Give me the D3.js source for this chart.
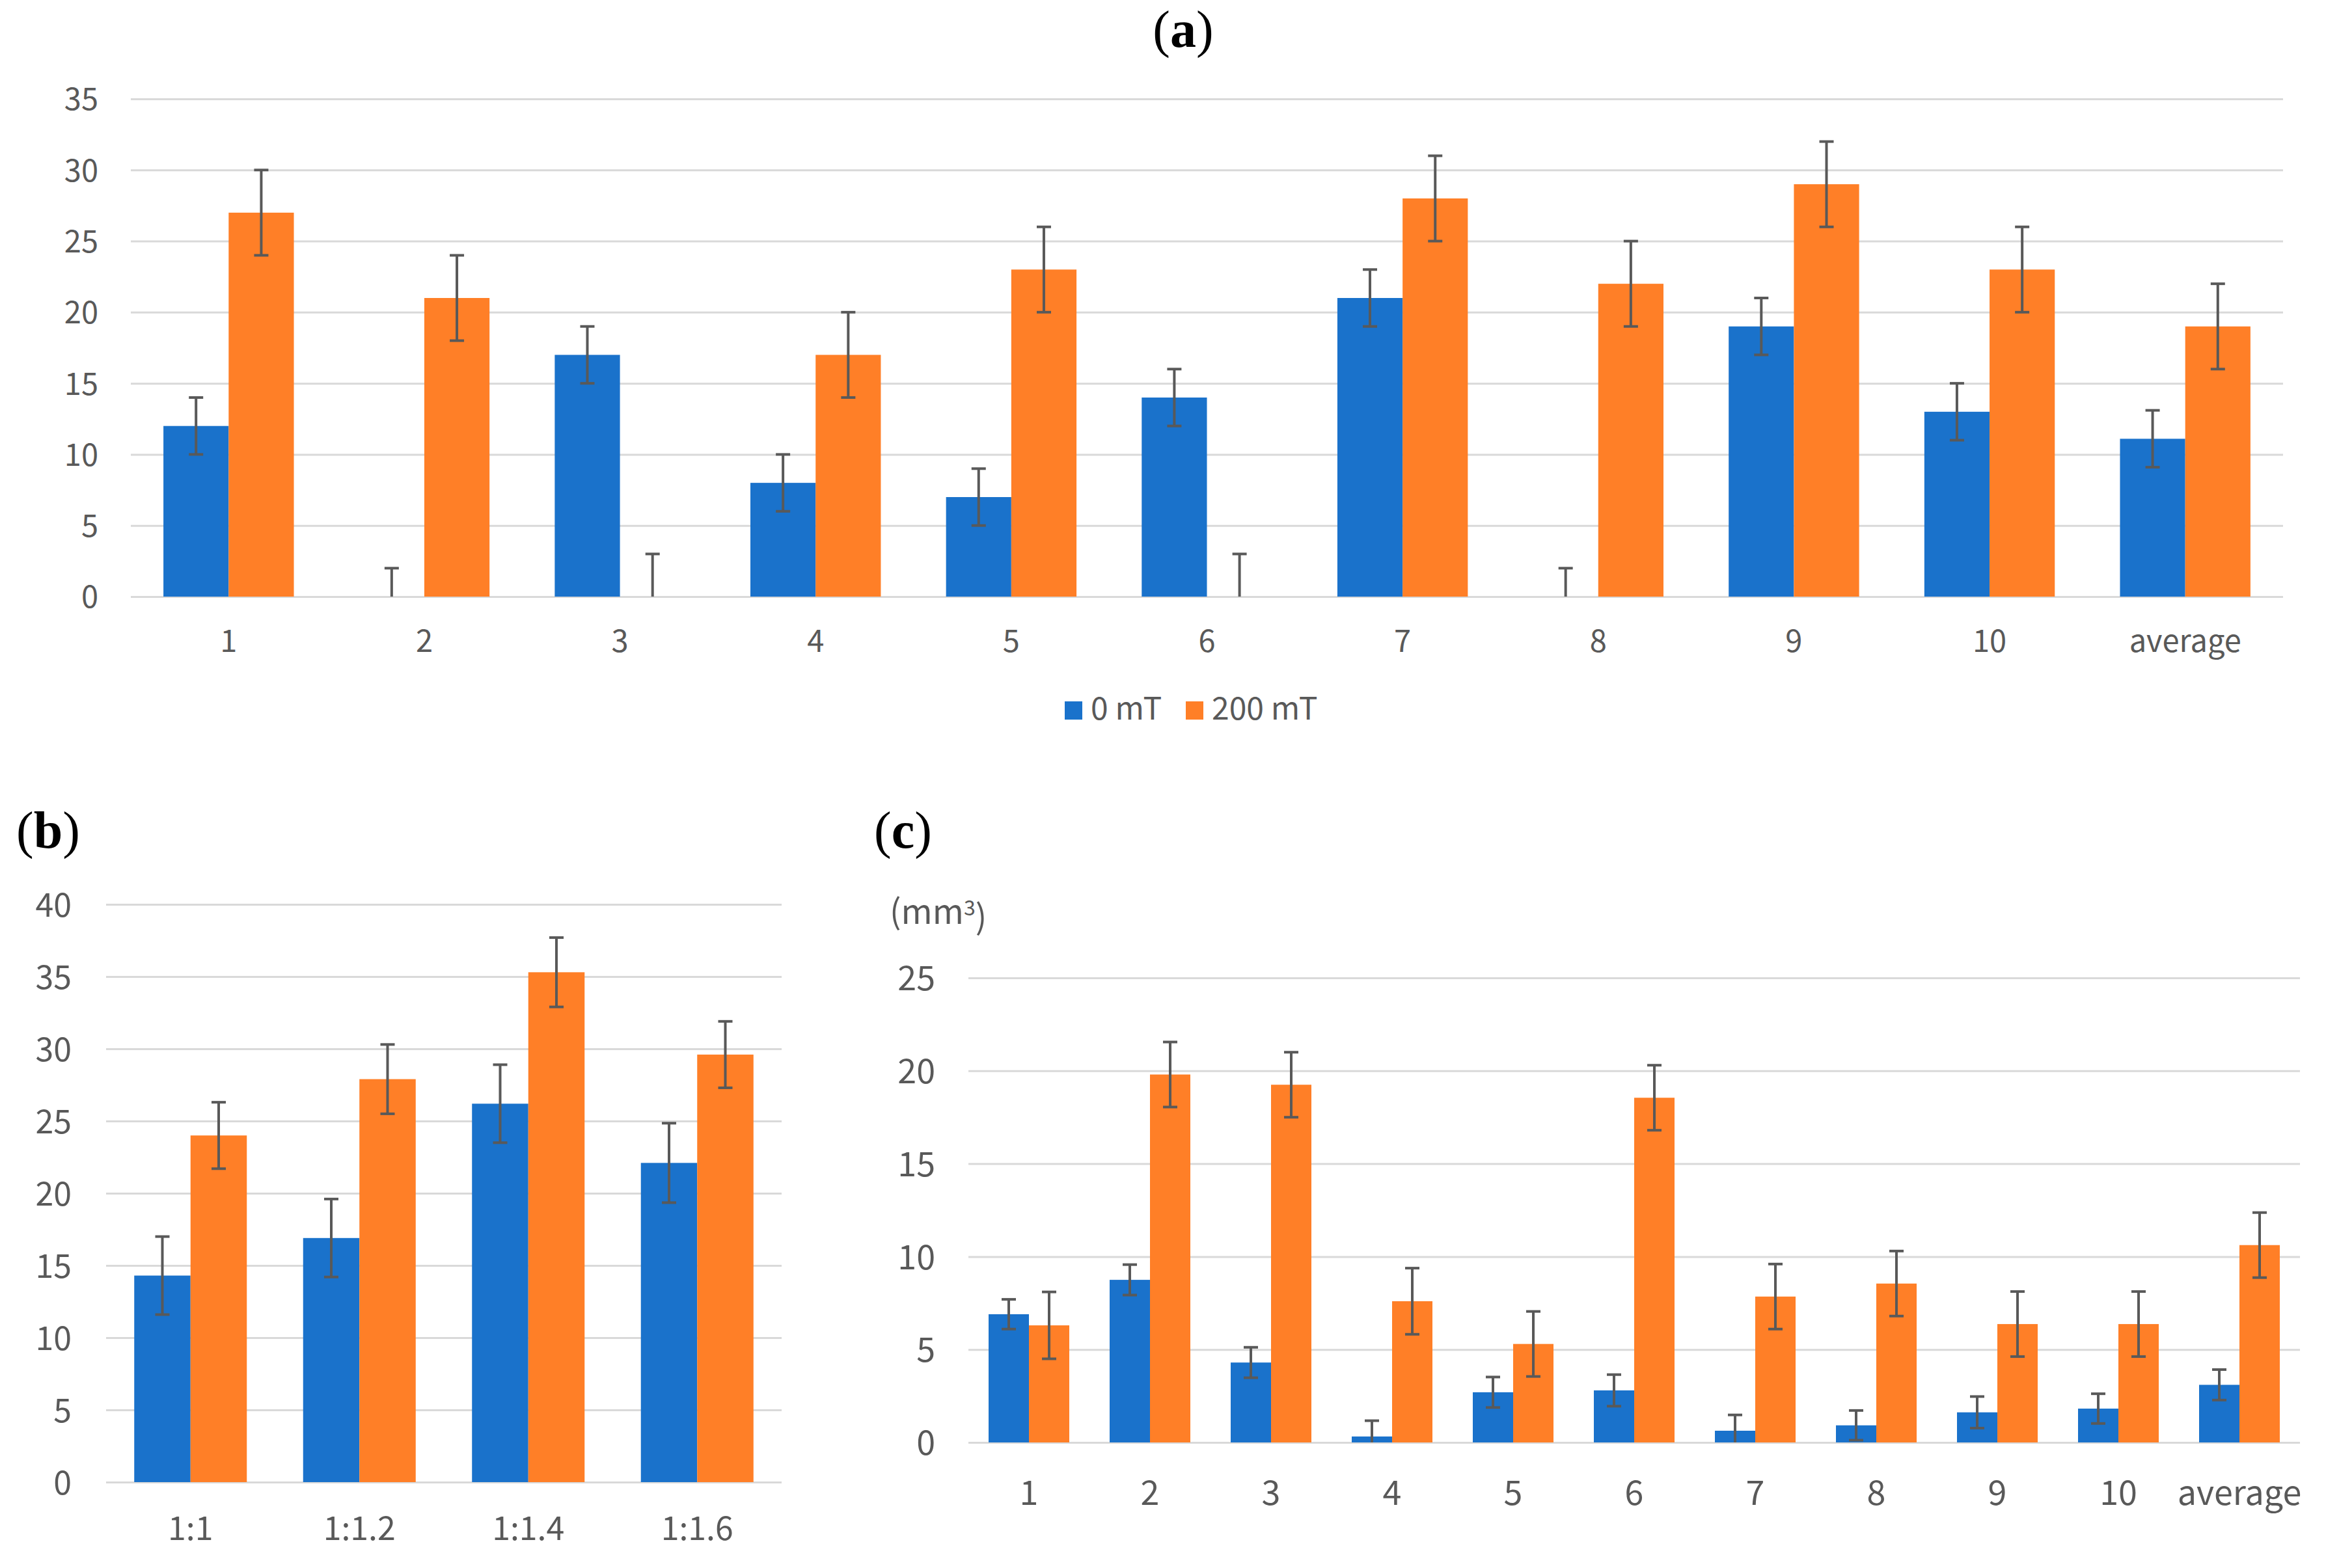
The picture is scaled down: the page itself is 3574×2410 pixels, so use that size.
<!DOCTYPE html>
<html>
<head>
<meta charset="utf-8">
<script src="https://cdnjs.cloudflare.com/ajax/libs/d3/7.8.5/d3.min.js"></script>
<style>
  html, body { margin: 0; padding: 0; background: #ffffff; }
  svg { display: block; }
</style>
</head>
<body>
<div id="chart"></div>
<script>
'use strict';

// ---- data ----
var seriesNames = ["0 mT", "200 mT"];

var catsA = ["1", "2", "3", "4", "5", "6", "7", "8", "9", "10", "average"];
var blueA = [12, 0, 17, 8, 7, 14, 21, 0, 19, 13, 11.1];
var orangeA = [27, 21, 0, 17, 23, 0, 28, 22, 29, 23, 19];
var blueErrA = [2, 2, 2, 2, 2, 2, 2, 2, 2, 2, 2];
var orangeErrA = [3, 3, 3, 3, 3, 3, 3, 3, 3, 3, 3];
var ticksA = [0, 5, 10, 15, 20, 25, 30, 35];

var catsB = ["1:1", "1:1.2", "1:1.4", "1:1.6"];
var blueB = [14.3, 16.9, 26.2, 22.1];
var orangeB = [24.0, 27.9, 35.3, 29.6];
var blueErrB = [2.7, 2.7, 2.7, 2.75];
var orangeErrB = [2.3, 2.4, 2.4, 2.3];
var ticksB = [0, 5, 10, 15, 20, 25, 30, 35, 40];

var catsC = ["1", "2", "3", "4", "5", "6", "7", "8", "9", "10", "average"];
var blueC = [6.9, 8.75, 4.3, 0.32, 2.7, 2.8, 0.63, 0.92, 1.62, 1.82, 3.1];
var orangeC = [6.3, 19.8, 19.25, 7.6, 5.3, 18.55, 7.85, 8.55, 6.37, 6.37, 10.62];
var blueErrC = [0.8, 0.82, 0.82, 0.85, 0.82, 0.85, 0.85, 0.8, 0.85, 0.8, 0.82];
var orangeErrC = [1.8, 1.75, 1.75, 1.78, 1.75, 1.75, 1.75, 1.75, 1.75, 1.75, 1.75];
var ticksC = [0, 5, 10, 15, 20, 25];

var App = {
    width: 3574,
    height: 2410,
    colors: ["#1a72cb", "#ff7f27"],
    textColor: "#595959",
    gridColor: "#d9d9d9",
    errColor: "#595959",
    font: "'Noto Sans CJK KR', 'Noto Sans', sans-serif",
    serif: "'Liberation Serif', 'Times New Roman', serif"
};

var svg = d3.select("#chart").append("svg")
    .attr("width", App.width)
    .attr("height", App.height);

function panelLabel(x, y, letter, anchor) {
    var t = svg.append("text")
	.attr("x", x)
	.attr("y", y)
	.attr("text-anchor", anchor)
	.style("font-family", App.serif)
	.style("font-size", "80px")
	.style("fill", "#000");
    t.append("tspan").text("(");
    t.append("tspan").style("font-weight", "bold").text(letter);
    t.append("tspan").text(")");
}

function drawPanel(p) {
    var g = svg.append("g");

    var x = d3.scaleBand()
	.domain(p.cats)
	.range([p.x0, p.x1])
	.paddingInner(1 / 3)
	.paddingOuter(1 / 6);

    var xs = d3.scaleBand()
	.domain([0, 1])
	.range([0, x.bandwidth()]);

    var y = d3.scaleLinear()
	.domain([0, d3.max(p.ticks)])
	.range([p.y0, p.yTop]);

    // GRID + Y LABELS
    var yAxis = g.append("g")
	.attr("transform", "translate(" + p.x0 + ",0)")
	.call(d3.axisLeft(y)
	      .tickValues(p.ticks)
	      .tickSize(-(p.x1 - p.x0))
	      .tickPadding(p.yPad)
	      .tickFormat(d3.format("d")));
    yAxis.select(".domain").remove();
    yAxis.selectAll("line")
	.attr("stroke", App.gridColor)
	.attr("stroke-width", 3);
    yAxis.selectAll("text")
	.attr("dy", "0.36em")
	.style("font-family", App.font)
	.style("font-size", p.fontSize + "px")
	.style("fill", App.textColor);

    // X LABELS
    var xAxis = g.append("g")
	.attr("transform", "translate(0," + p.y0 + ")")
	.call(d3.axisBottom(x).tickSize(0));
    xAxis.select(".domain").remove();
    xAxis.selectAll("text")
	.attr("y", p.xLabelOffset)
	.attr("dy", null)
	.style("font-family", App.font)
	.style("font-size", p.fontSize + "px")
	.style("fill", App.textColor);

    // BARS
    var rows = _rows(p);

    g.selectAll("rect.bar")
	.data(rows)
	.enter()
	.append("rect")
	.attr("class", "bar")
	.attr("x", function(d) { return x(d.cat) + xs(d.s); })
	.attr("width", xs.bandwidth())
	.attr("y", function(d) { return y(d.v); })
	.attr("height", function(d) { return p.y0 - y(d.v); })
	.attr("fill", function(d) { return App.colors[d.s]; });

    // ERROR BARS
    var cap = p.cap;
    var eb = g.selectAll("g.err")
	.data(rows)
	.enter()
	.append("g")
	.attr("class", "err")
	.attr("stroke", App.errColor)
	.attr("stroke-width", 4);

    function cx(d) { return x(d.cat) + xs(d.s) + xs.bandwidth() / 2; }

    eb.append("line")
	.attr("x1", cx).attr("x2", cx)
	.attr("y1", function(d) { return y(d.v + d.e); })
	.attr("y2", function(d) { return y(Math.max(0, d.v - d.e)); });

    eb.append("line")
	.attr("x1", function(d) { return cx(d) - cap / 2; })
	.attr("x2", function(d) { return cx(d) + cap / 2; })
	.attr("y1", function(d) { return y(d.v + d.e); })
	.attr("y2", function(d) { return y(d.v + d.e); });

    eb.filter(function(d) { return d.v - d.e >= 0; })
	.append("line")
	.attr("x1", function(d) { return cx(d) - cap / 2; })
	.attr("x2", function(d) { return cx(d) + cap / 2; })
	.attr("y1", function(d) { return y(d.v - d.e); })
	.attr("y2", function(d) { return y(d.v - d.e); });

    return g;
}

function _rows(p) {
    var out = [];
    p.cats.forEach(function(c, i) {
	out.push({ cat: c, s: 0, v: p.blue[i], e: p.blueErr[i] });
	out.push({ cat: c, s: 1, v: p.orange[i], e: p.orangeErr[i] });
    });
    return out;
}

// ---- panel (a) ----
panelLabel(1818, 72, "a", "middle");
drawPanel({
    cats: catsA, blue: blueA, orange: orangeA,
    blueErr: blueErrA, orangeErr: orangeErrA, ticks: ticksA,
    x0: 201, x1: 3508, y0: 917, yTop: 152,
    yPad: 50, xLabelOffset: 85, fontSize: 47, cap: 22
});

// legend
var legend = svg.append("g")
    .style("font-family", App.font)
    .style("font-size", "48px")
    .style("fill", App.textColor);
var legendX = [1636, 1822];
legend.selectAll("rect")
    .data(seriesNames)
    .enter()
    .append("rect")
    .attr("x", function(d, i) { return legendX[i]; })
    .attr("y", 1078)
    .attr("width", 27)
    .attr("height", 28)
    .attr("fill", function(d, i) { return App.colors[i]; });
legend.selectAll("text")
    .data(seriesNames)
    .enter()
    .append("text")
    .attr("x", function(d, i) { return legendX[i] + 40; })
    .attr("y", 1106)
    .text(function(d) { return d; });

// ---- panel (b) ----
panelLabel(25, 1303, "b", "start");
drawPanel({
    cats: catsB, blue: blueB, orange: orangeB,
    blueErr: blueErrB, orangeErr: orangeErrB, ticks: ticksB,
    x0: 163, x1: 1201, y0: 2278, yTop: 1390,
    yPad: 53, xLabelOffset: 89, fontSize: 50, cap: 22
});

// ---- panel (c) ----
panelLabel(1343, 1303, "c", "start");
drawPanel({
    cats: catsC, blue: blueC, orange: orangeC,
    blueErr: blueErrC, orangeErr: orangeErrC, ticks: ticksC,
    x0: 1488, x1: 3534, y0: 2217, yTop: 1503,
    yPad: 51, xLabelOffset: 96, fontSize: 52, cap: 22
});

var unit = svg.append("text")
    .attr("x", 1367)
    .attr("y", 1420)
    .style("font-family", App.font)
    .style("font-size", "52px")
    .style("fill", App.textColor);
unit.append("tspan").text("(mm");
unit.append("tspan").attr("dy", "-0.4em").style("font-size", "32px").text("3");
unit.append("tspan").attr("dy", "0.4em").text(")");
</script>
</body>
</html>
